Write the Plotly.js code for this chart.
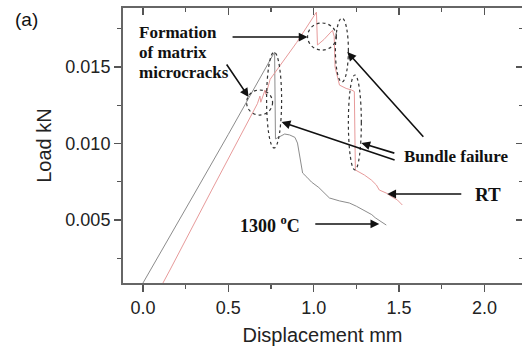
<!DOCTYPE html>
<html>
<head>
<meta charset="utf-8">
<script src="https://cdn.plot.ly/plotly-3.0.1.min.js"></script>
<style>html,body{margin:0;padding:0;background:#fff;}#chart{width:522px;height:346px;}</style>
</head>
<body>
<div id="chart"></div>
<script>
// 1300 °C curve (displacement mm, load kN)
const hotDisp = [0.0, 0.10, 0.30, 0.50, 0.70, 0.771, 0.776, 0.80, 0.83, 0.859, 0.89, 0.905, 0.915, 0.925, 0.935, 0.96, 0.987, 1.03, 1.06, 1.092, 1.15, 1.209, 1.25, 1.29, 1.308, 1.34, 1.36, 1.384, 1.40, 1.425];
const hotLoad = [0.00088, 0.00280, 0.00670, 0.01060, 0.01450, 0.01598, 0.01030, 0.01042, 0.01062, 0.01056, 0.01040, 0.01003, 0.00940, 0.00870, 0.00807, 0.00780, 0.00748, 0.00712, 0.00680, 0.00644, 0.00625, 0.00611, 0.00590, 0.00566, 0.00552, 0.00535, 0.00515, 0.00500, 0.00485, 0.00467];
// Room temperature curve
const rtDisp = [0.117, 0.158, 0.40, 0.67, 0.685, 0.69, 0.715, 0.72, 0.745, 0.90, 1.016, 1.022, 1.06, 1.110, 1.120, 1.125, 1.151, 1.19, 1.221, 1.238, 1.244, 1.27, 1.297, 1.338, 1.367, 1.384, 1.425, 1.46, 1.49, 1.519];
const rtLoad = [0.00088, 0.00173, 0.00690, 0.01260, 0.01310, 0.01270, 0.01350, 0.01320, 0.01420, 0.01660, 0.01859, 0.01644, 0.01680, 0.01740, 0.01700, 0.01500, 0.01382, 0.01360, 0.01350, 0.01340, 0.00827, 0.00810, 0.00794, 0.00761, 0.00729, 0.00696, 0.00676, 0.00650, 0.00631, 0.00598];

const xTickVals = [0.0, 0.5, 1.0, 1.5, 2.0];
const yTickVals = [0.005, 0.010, 0.015];

const serif = 'Liberation Serif, Times New Roman, serif';
const sans = 'Liberation Sans, Arial, sans-serif';

const traces = [
  {x: hotDisp, y: hotLoad, mode: 'lines', line: {color: '#8c8c8c', width: 1}, name: '1300 °C', hoverinfo: 'skip'},
  {x: rtDisp, y: rtLoad, mode: 'lines', line: {color: '#e79a9a', width: 1}, name: 'RT', hoverinfo: 'skip'},
  {x: [], y: [], xaxis: 'x2', yaxis: 'y2', showlegend: false, hoverinfo: 'skip'}
];

const xr = [-0.117, 2.22];
const yr = [0.00088, 0.01886];

function ell(x0, x1, y0, y1) {
  return {type: 'circle', xref: 'x', yref: 'y', x0: x0, x1: x1, y0: y0, y1: y1,
          line: {color: '#333', width: 1.2, dash: 'dot'}};
}

function arrow(x, y, ax, ay) {
  return {x: x, y: y, xref: 'x', yref: 'y', ax: ax, ay: ay, text: ' ', showarrow: true,
          arrowhead: 2, arrowsize: 1.1, arrowwidth: 1.6, arrowcolor: '#111', standoff: 0, startstandoff: 0};
}

function label(text, xp, yp, size, xanchor) {
  return {text: text, x: xp, y: yp, xref: 'paper', yref: 'paper', showarrow: false,
          xanchor: xanchor || 'left', yanchor: 'middle',
          font: {family: serif, size: size, color: '#111', weight: 'bold'}};
}

// pixel placement -> paper fractions for text labels
const L = 123, R = 522, T = 8, B = 283;
const px = v => (v - L) / (R - L);
const py = v => (B - v) / (B - T);

const layout = {
  width: 522, height: 346,
  margin: {l: L, r: 522 - R, t: T, b: 346 - B},
  paper_bgcolor: '#fff', plot_bgcolor: '#fff',
  showlegend: false,
  font: {family: sans, color: '#222'},
  xaxis: {
    range: xr, tickvals: xTickVals, tickformat: '.1f',
    ticks: 'outside', ticklen: 7, tickwidth: 1.3, tickcolor: '#555',
    minor: {dtick: 0.25, tick0: 0, ticks: 'outside', ticklen: 4, tickcolor: '#555', tickwidth: 1.2},
    showline: true, linecolor: '#666', linewidth: 2, mirror: true,
    showgrid: false, zeroline: false,
    tickfont: {size: 18, family: sans, color: '#222'},
    title: {text: 'Displacement mm', font: {size: 20, family: sans, color: '#222'}, standoff: 12}
  },
  yaxis: {
    range: yr, tickvals: yTickVals, tickformat: '.3f',
    ticks: 'outside', ticklen: 7, tickwidth: 1.3, tickcolor: '#555',
    minor: {dtick: 0.0025, tick0: 0, ticks: 'outside', ticklen: 4, tickcolor: '#555', tickwidth: 1.2},
    showline: true, linecolor: '#666', linewidth: 2, mirror: true,
    showgrid: false, zeroline: false,
    tickfont: {size: 18, family: sans, color: '#222'},
    title: {text: 'Load kN', font: {size: 20, family: sans, color: '#222'}, standoff: 8}
  },
  xaxis2: {
    overlaying: 'x', side: 'top', range: xr, tickvals: xTickVals,
    ticks: 'inside', ticklen: 7, tickwidth: 1.3, tickcolor: '#555',
    minor: {dtick: 0.25, tick0: 0, ticks: 'inside', ticklen: 4, tickcolor: '#555', tickwidth: 1.2},
    showticklabels: false, showline: true, linecolor: '#666', linewidth: 2,
    showgrid: false, zeroline: false
  },
  yaxis2: {
    overlaying: 'y', side: 'right', range: yr, tickvals: yTickVals,
    ticks: 'inside', ticklen: 6, tickwidth: 1.3, tickcolor: '#555',
    minor: {dtick: 0.0025, tick0: 0, ticks: 'inside', ticklen: 3, tickcolor: '#555', tickwidth: 1.2},
    showticklabels: false, showline: true, linecolor: '#666', linewidth: 2,
    showgrid: false, zeroline: false
  },
  shapes: [
    ell(0.607, 0.759, 0.01186, 0.01350),
    ell(0.724, 0.812, 0.00971, 0.01598),
    ell(0.964, 1.133, 0.01611, 0.01788),
    ell(1.127, 1.203, 0.01402, 0.01820),
    ell(1.203, 1.279, 0.00827, 0.01448)
  ],
  annotations: [
    {text: '(a)', x: px(13), y: py(20), xref: 'paper', yref: 'paper', xanchor: 'left', yanchor: 'middle',
     showarrow: false, font: {family: sans, size: 19, color: '#111'}},
    label('Formation', px(137), py(32), 17),
    label('of matrix', px(137), py(52), 17),
    label('microcracks', px(137), py(73), 17),
    label('Bundle failure', px(402), py(157), 17),
    label('RT', px(473), py(195), 19),
    label('1300 <sup>o</sup>C', px(238), py(224), 18),
    arrow(0.964, 0.01696, -78, 0),
    arrow(0.619, 0.01304, -25, -37),
    arrow(1.197, 0.01598, 79, 88),
    arrow(1.279, 0.01003, 36, 11),
    arrow(0.812, 0.01141, 116, 39),
    arrow(1.431, 0.00670, 77, 0),
    arrow(1.384, 0.00474, -67, 0)
  ]
};

Plotly.newPlot('chart', traces, layout, {displayModeBar: false, staticPlot: true});
</script>
</body>
</html>
